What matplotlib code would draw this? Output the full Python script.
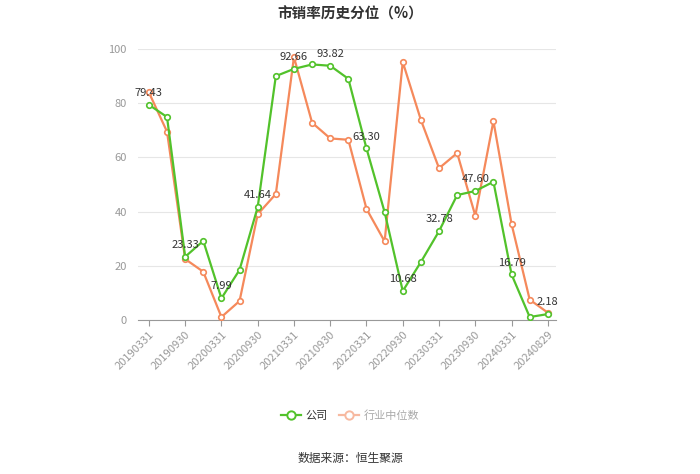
#!/usr/bin/env python3
"""市销率历史分位 line chart: company vs industry median."""
import matplotlib
matplotlib.use("Agg")
import matplotlib.pyplot as plt
from matplotlib.lines import Line2D

plt.rcParams["font.family"] = ["Noto Sans CJK SC", "DejaVu Sans"]

dates = ["20190331", "20190630", "20190930", "20191231",
         "20200331", "20200630", "20200930", "20201231",
         "20210331", "20210630", "20210930", "20211231",
         "20220331", "20220630", "20220930", "20221231",
         "20230331", "20230630", "20230930", "20231231",
         "20240331", "20240630", "20240829"]
company = [79.43, 74.9, 23.33, 29.2, 7.99, 18.5, 41.64, 90.0,
           92.66, 94.3, 93.82, 89.0, 63.30, 39.8, 10.68, 21.4,
           32.78, 46.1, 47.60, 51.0, 16.79, 1.1, 2.18]
industry = [84.0, 69.5, 22.5, 17.8, 1.1, 7.0, 39.0, 46.5,
            97.0, 72.8, 67.0, 66.5, 41.0, 29.0, 95.2, 73.8,
            56.0, 61.6, 38.5, 73.4, 35.4, 7.5, 2.7]

GREEN = "#52c22b"
ORANGE = "#f5895b"

fig = plt.figure(figsize=(7.0, 4.74), dpi=100)
ax = fig.add_axes([138 / 700, 1 - 320 / 474, (556 - 138) / 700, (320 - 49) / 474])

xs = list(range(len(dates)))
ax.plot(xs, industry, "-o", color=ORANGE, lw=1.6, ms=4, mfc="white",
        mec=ORANGE, mew=1.2, zorder=3)
ax.plot(xs, company, "-o", color=GREEN, lw=1.6, ms=4, mfc="white",
        mec=GREEN, mew=1.2, zorder=4)

for i in range(0, len(dates), 2):
    ax.annotate(f"{company[i]:.2f}", (i, company[i]), xytext=(0, 5),
                textcoords="offset points", ha="center", va="bottom",
                fontsize=8, color="#333333", zorder=5)

ax.set_xlim(-0.6, len(dates) - 1 + 0.45)
ax.set_ylim(0, 100)
ax.set_yticks([0, 20, 40, 60, 80, 100])
ax.tick_params(axis="y", length=0, labelsize=8, labelcolor="#999999", pad=8)
ax.set_xticks(xs[::2])
ax.set_xticklabels(dates[::2], rotation=45, ha="right", rotation_mode="anchor",
                   fontsize=8, color="#999999")
ax.tick_params(axis="x", length=4, color="#999999", pad=3)
ax.grid(axis="y", color="#e6e6e6", lw=0.8)
ax.set_axisbelow(True)
for s in ["top", "right", "left"]:
    ax.spines[s].set_visible(False)
ax.spines["bottom"].set_color("#999999")

fig.text(0.5, 1 - 14 / 474, "市销率历史分位（%）", ha="center", va="center",
         fontsize=10.5, fontweight="bold", color="#333333")

handles = [Line2D([], [], color=GREEN, lw=1.6, marker="o", ms=6, mfc="white",
                  mec=GREEN, mew=1.4),
           Line2D([], [], color="#f7b9a0", lw=1.6, marker="o", ms=6, mfc="white",
                  mec="#f7b9a0", mew=1.4)]
leg = fig.legend(handles, ["公司", "行业中位数"], loc="center",
                 bbox_to_anchor=(0.5, 1 - 416 / 474), ncol=2, frameon=False,
                 fontsize=8, handlelength=1.8, columnspacing=1.0, handletextpad=0.4)
leg.get_texts()[0].set_color("#333333")
leg.get_texts()[1].set_color("#aaaaaa")

fig.text(0.5, 1 - 458 / 474, "数据来源：恒生聚源", ha="center", va="center",
         fontsize=8.5, color="#333333")

fig.savefig("out.png", dpi=100)
